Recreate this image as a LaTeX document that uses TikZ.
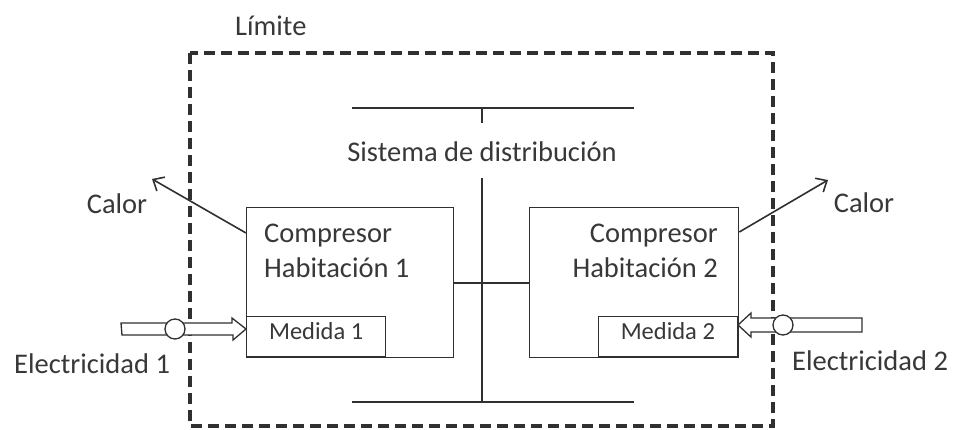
\documentclass[tikz,border=0pt]{standalone}
\usepackage{fontspec}
\setmainfont{Carlito}
\usetikzlibrary{arrows.meta}
\definecolor{ink}{HTML}{303030}
\definecolor{txt}{HTML}{383838}
\begin{document}
\begin{tikzpicture}[x=1pt,y=-1pt,
  every node/.style={font=\fontsize{28.5}{32}\selectfont, text=txt, inner sep=0pt},
  medst/.style={font=\fontsize{24.5}{28}\selectfont},
  ln/.style={draw=ink, line width=1.6pt},
  boxst/.style={draw=ink, line width=1.3pt, fill=white, inner sep=0pt},
  limst/.style={draw=ink, line width=3.5pt, dash pattern=on 11pt off 6pt},
  calorarrow/.style={ln, -{Straight Barb[length=9pt,width=16pt,line width=1.6pt]}},
  hollow/.style={draw=ink, line width=1.3pt, fill=white},
  meter/.style={circle, draw=ink, line width=1.3pt, fill=white, minimum size=20pt}
]
\useasboundingbox (0,0) rectangle (966,429);
% boundary
\node[anchor=base west] (lim) at (235,35) {Límite};
\draw[limst] (190,53) rectangle (773,426);
% distribution system
\coordinate (t1) at (352,108); \coordinate (t2) at (634,108);
\coordinate (tm) at (482,108); \coordinate (tk) at (482,123);
\coordinate (b1) at (352,402); \coordinate (b2) at (634,402);
\coordinate (bm) at (482,402); \coordinate (vm) at (482,178);
\node[anchor=base] (sys) at (482,161) {Sistema de distribución};
\draw[ln] (t1) -- (t2);
\draw[ln] (tm) -- (tk);
\draw[ln] (b1) -- (b2);
\draw[ln] (vm) -- (bm);
% compressor boxes
\node[boxst, minimum width=207pt, minimum height=150pt, anchor=north west] (c1) at (246,207) {};
\node[boxst, minimum width=209pt, minimum height=150pt, anchor=north west] (c2) at (529,207) {};
\node[anchor=base west] (c1a) at (264,242) {Compresor};
\node[anchor=base west] (c1b) at (264,277) {Habitación 1};
\node[anchor=base east] (c2a) at (718,242) {Compresor};
\node[anchor=base east] (c2b) at (718,277) {Habitación 2};
\draw[ln] (c1.east |- 0,283) -- (c2.west |- 0,283);
% meters
\node[boxst, minimum width=139pt, minimum height=40pt, anchor=south west] (m1) at (246,357) {};
\node[anchor=base, medst] (m1t) at (m1.center) [yshift=-3pt] {Medida 1};
\draw[ink, line width=2.4pt] (m1.south west) -- (m1.south east);
\node[boxst, minimum width=139pt, minimum height=40pt, anchor=south east] (m2) at (738,357) {};
\node[anchor=base, medst] (m2t) at (m2.center) [yshift=-3pt] {Medida 2};
\draw[ink, line width=2.4pt] (m2.south west) -- (m2.south east);
% heat arrows
\coordinate (h1) at (152,179);
\coordinate (h2) at (828,180);
\draw[calorarrow] (c1.west |- 0,233) -- (h1);
\draw[calorarrow] (c2.east |- 0,232) -- (h2);
\node[anchor=base] (cal1) at (117,213) {Calor};
\node[anchor=base] (cal2) at (864,212) {Calor};
% electricity inputs
\coordinate (e1) at (121,329);
\draw[hollow] (e1) ++(0,-6) -- ++(111,0) -- ++(0,-5) -- (m1.west |- e1) -- ++(-13,11) -- ++(0,-5) -- ++(-111,0) -- cycle;
\node[meter] (o1) at (175,329) {};
\coordinate (e2) at (862,325);
\draw[hollow] (e2) ++(0,-7) -- ++(-111,0) -- ++(0,-5) -- (m2.east |- e2) -- ++(13,12) -- ++(0,-5) -- ++(111,0) -- cycle;
\node[meter] (o2) at (783,325) {};
\node[anchor=base west] (el1) at (14,373) {Electricidad 1};
\node[anchor=base west] (el2) at (792,370) {Electricidad 2};
\end{tikzpicture}
\end{document}
